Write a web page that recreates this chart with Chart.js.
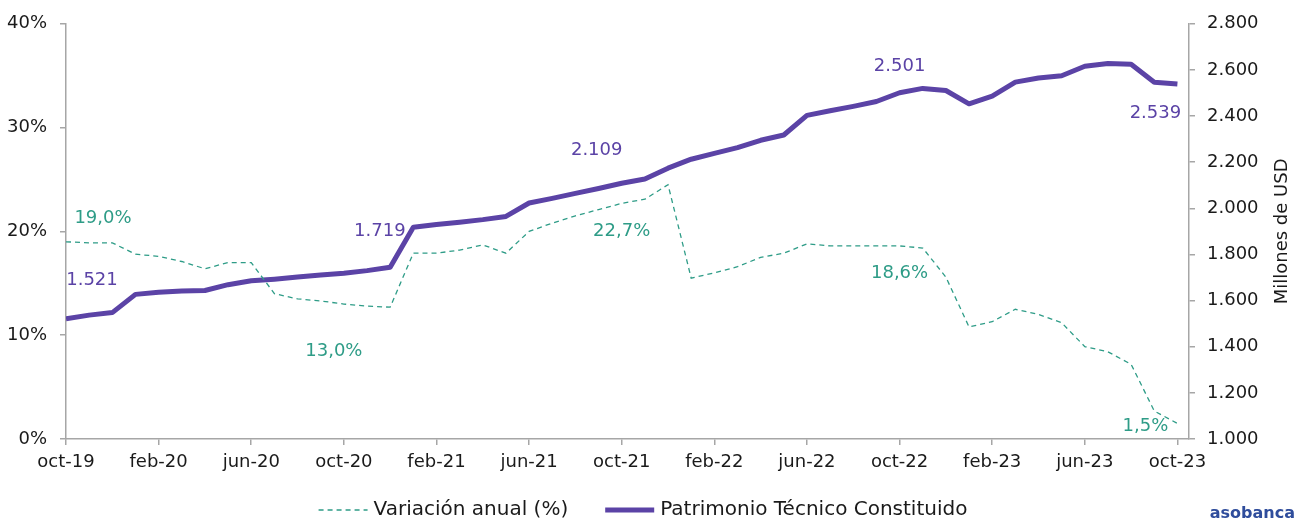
<!DOCTYPE html>
<html>
<head>
<meta charset="utf-8">
<script src="https://cdn.jsdelivr.net/npm/chart.js@4.4.0/dist/chart.umd.min.js"></script>
<style>
  html, body { margin: 0; padding: 0; background: #fff; }
  #wrap { width: 1306px; height: 521px; position: relative; }
</style>
</head>
<body>
<div id="wrap"><canvas id="grafico" width="1306" height="521"></canvas></div>
<script>
// meses de oct-19 a oct-23
const meses = [
  "oct-19", "nov-19", "dic-19", "ene-20", "feb-20", "mar-20", "abr-20", "may-20", "jun-20", "jul-20", "ago-20", "sep-20",
  "oct-20", "nov-20", "dic-20", "ene-21", "feb-21", "mar-21", "abr-21", "may-21", "jun-21", "jul-21", "ago-21", "sep-21",
  "oct-21", "nov-21", "dic-21", "ene-22", "feb-22", "mar-22", "abr-22", "may-22", "jun-22", "jul-22", "ago-22", "sep-22",
  "oct-22", "nov-22", "dic-22", "ene-23", "feb-23", "mar-23", "abr-23", "may-23", "jun-23", "jul-23", "ago-23", "sep-23",
  "oct-23"
];

// Variación anual (%), eje izquierdo
const variacion = [
  19.0, 18.9, 18.9, 17.8, 17.6, 17.1, 16.4, 17.0, 17.0, 14.0, 13.5, 13.3,
  13.0, 12.8, 12.7, 17.9, 17.9, 18.2, 18.7, 17.9, 20.0, 20.8, 21.5, 22.1,
  22.7, 23.1, 24.5, 15.5, 16.0, 16.6, 17.5, 17.9, 18.8, 18.6, 18.6, 18.6,
  18.6, 18.4, 15.6, 10.8, 11.3, 12.5, 12.0, 11.2, 8.9, 8.4, 7.2, 2.7,
  1.5
];

// Patrimonio Técnico Constituido (millones USD), eje derecho
const patrimonio = [
  1521, 1537, 1548, 1627, 1636, 1642, 1644, 1669, 1686, 1693, 1702, 1711,
  1719, 1730, 1745, 1918, 1930, 1940, 1951, 1965, 2023, 2043, 2065, 2086,
  2109, 2127, 2174, 2213, 2238, 2263, 2295, 2318, 2403, 2423, 2442, 2463,
  2501, 2520, 2511, 2453, 2486, 2547, 2565, 2575, 2616, 2628, 2625, 2547,
  2539
];

// meses con etiqueta de dato (octubre de cada año)
const etiquetados = [0, 12, 24, 36, 48];

const FUENTE = "'DejaVu Sans', sans-serif";
const MORADO = "#5B43A6";
const VERDE = "#2E9C87";
const GRIS = "#A6A6A6";
const TEXTO = "#1A1A1A";

// desplazamientos de las etiquetas respecto del punto
const despMorado = [[26, -38], [36, -42], [-25, -33], [0, -26], [-22, 29]];
const despVerde = [[37, -23], [-10, 47], [0, 28], [0, 27], [-32, 3]];

function miles(v) {
  return String(Math.round(v)).replace(/\B(?=(\d{3})+(?!\d))/g, ".");
}
function pct(v) {
  return v.toFixed(1).replace(".", ",") + "%";
}

const extras = {
  id: "extras",
  afterDatasetsDraw(chart) {
    const ctx = chart.ctx;
    ctx.save();
    ctx.font = "18px " + FUENTE;
    ctx.textAlign = "center";
    ctx.textBaseline = "middle";
    const mV = chart.getDatasetMeta(0);
    const mP = chart.getDatasetMeta(1);
    etiquetados.forEach((idx, k) => {
      let p = mV.data[idx];
      ctx.fillStyle = VERDE;
      ctx.fillText(pct(variacion[idx]), p.x + despVerde[k][0], p.y + despVerde[k][1]);
      p = mP.data[idx];
      ctx.fillStyle = MORADO;
      ctx.fillText(miles(patrimonio[idx]), p.x + despMorado[k][0], p.y + despMorado[k][1]);
    });
    ctx.restore();
  },
  afterDraw(chart) {
    const ctx = chart.ctx;
    const area = chart.chartArea;
    ctx.save();

    // título del eje derecho, leído de abajo hacia arriba
    ctx.font = "18px " + FUENTE;
    ctx.fillStyle = TEXTO;
    ctx.textAlign = "center";
    ctx.textBaseline = "middle";
    ctx.translate(1282, (area.top + area.bottom) / 2);
    ctx.rotate(-Math.PI / 2);
    ctx.fillText("Millones de USD", 0, 0);
    ctx.setTransform(1, 0, 0, 1, 0, 0);

    // leyenda
    ctx.font = "20px " + FUENTE;
    const y = 510;
    const largo = 49, hueco = 6, sep = 37;
    const ds = chart.data.datasets;
    ctx.textAlign = "left";
    const w0 = ctx.measureText(ds[0].label).width;
    const w1 = ctx.measureText(ds[1].label).width;
    const total = largo + hueco + w0 + sep + largo + hueco + w1;
    let x = 643 - total / 2;
    ds.forEach((d, i) => {
      ctx.beginPath();
      ctx.strokeStyle = d.borderColor;
      ctx.lineWidth = d.borderWidth;
      ctx.setLineDash(d.borderDash || []);
      ctx.moveTo(x, y);
      ctx.lineTo(x + largo, y);
      ctx.stroke();
      ctx.setLineDash([]);
      x += largo + hueco;
      ctx.fillStyle = TEXTO;
      ctx.fillText(d.label, x, y);
      x += (i === 0 ? w0 : w1) + sep;
    });

    // logo
    ctx.font = "bold 16px " + FUENTE;
    ctx.fillStyle = "#2F4D9C";
    ctx.textAlign = "right";
    ctx.textBaseline = "alphabetic";
    ctx.fillText("asobanca", 1295, 518);
    ctx.restore();
  }
};

new Chart(document.getElementById("grafico"), {
  type: "line",
  data: {
    datasets: [
      {
        label: "Variación anual (%)",
        data: variacion.map((v, i) => ({ x: i, y: v })),
        yAxisID: "y",
        borderColor: VERDE,
        borderWidth: 1.3,
        borderDash: [5, 4],
        pointRadius: 0,
        tension: 0
      },
      {
        label: "Patrimonio Técnico Constituido",
        data: patrimonio.map((v, i) => ({ x: i, y: v })),
        yAxisID: "y2",
        borderColor: MORADO,
        borderWidth: 5,
        pointRadius: 0,
        tension: 0,
        borderJoinStyle: "round"
      }
    ]
  },
  options: {
    responsive: false,
    animation: false,
    events: [],
    layout: { padding: { top: 22, right: 0, bottom: 48, left: 0 } },
    plugins: {
      legend: { display: false },
      tooltip: { enabled: false }
    },
    scales: {
      x: {
        type: "linear",
        min: 0,
        max: 48.5,
        afterBuildTicks: (scale) => {
          scale.ticks = meses.map((m, i) => ({ value: i })).filter(t => t.value % 4 === 0);
        },
        afterFit: (scale) => { scale.height = 34; },
        border: { display: true, color: GRIS, width: 1.5 },
        grid: { drawOnChartArea: false, drawTicks: true, tickLength: 6, color: GRIS, lineWidth: 1.5 },
        ticks: {
          autoSkip: false,
          maxRotation: 0,
          padding: 7,
          color: TEXTO,
          font: { family: FUENTE, size: 18 },
          callback: (v) => meses[v]
        }
      },
      y: {
        position: "left",
        min: 0,
        max: 40,
        afterFit: (scale) => { scale.width = 66; },
        border: { display: true, color: GRIS, width: 1.5 },
        grid: { drawOnChartArea: false, drawTicks: true, tickLength: 6, color: GRIS, lineWidth: 1.5 },
        ticks: {
          stepSize: 10,
          padding: 13,
          color: TEXTO,
          font: { family: FUENTE, size: 18 },
          callback: (v) => v + "%"
        }
      },
      y2: {
        position: "right",
        min: 1000,
        max: 2800,
        afterFit: (scale) => { scale.width = 117; },
        border: { display: true, color: GRIS, width: 1.5 },
        grid: { drawOnChartArea: false, drawTicks: true, tickLength: 6, color: GRIS, lineWidth: 1.5 },
        ticks: {
          stepSize: 200,
          padding: 12,
          color: TEXTO,
          font: { family: FUENTE, size: 18 },
          callback: (v) => miles(v)
        }
      }
    }
  },
  plugins: [extras]
});
</script>
</body>
</html>
